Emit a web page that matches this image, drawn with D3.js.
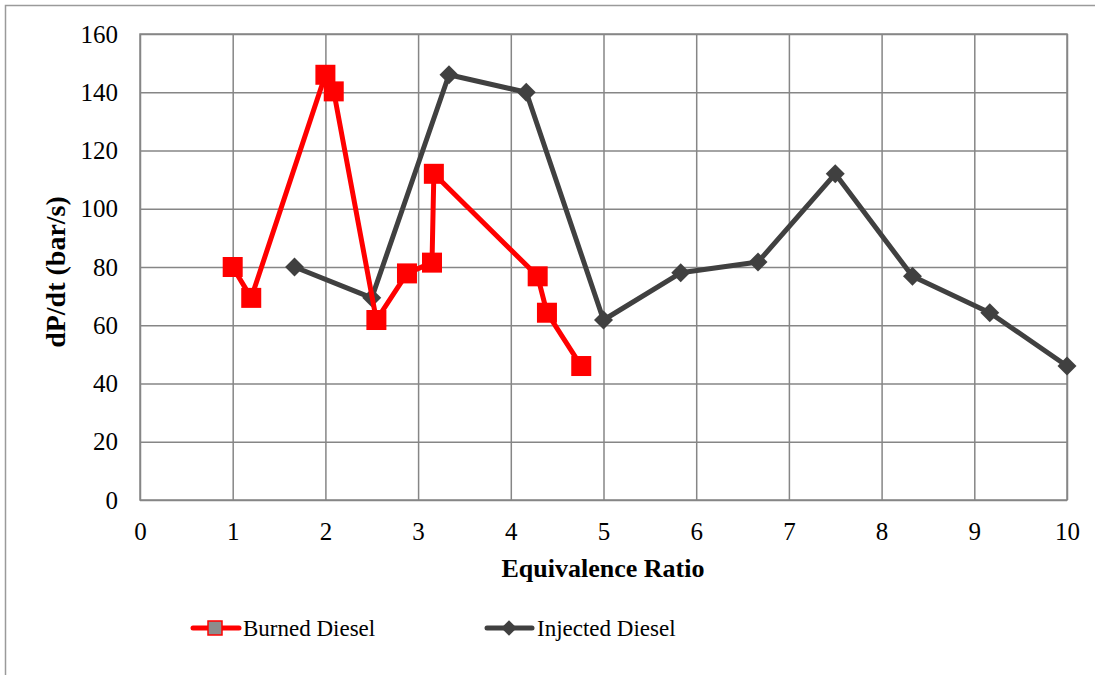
<!DOCTYPE html>
<html>
<head>
<meta charset="utf-8">
<script src="https://cdn.jsdelivr.net/npm/d3@7"></script>
<style>
  html, body { margin: 0; padding: 0; background: #fff; }
  svg text { font-family: "Liberation Serif", "Times New Roman", Tinos, "DejaVu Serif", serif; }
</style>
</head>
<body>
<svg id="chart" width="1095" height="675"></svg>
<script>
// Burned Diesel (red squares)
const burnedX = [1.0, 1.2, 2.0, 2.09, 2.55, 2.88, 3.15, 3.17, 4.29, 4.39, 4.76];
const burnedY = [80, 69.4, 146, 140.3, 61.8, 77.8, 81.5, 112, 76.8, 64.3, 46];
// Injected Diesel (dark diamonds)
const injectedX = [1.667, 2.5, 3.333, 4.167, 5, 5.833, 6.667, 7.5, 8.333, 9.167, 10];
const injectedY = [80, 69.4, 146, 140, 61.8, 78, 81.7, 112, 76.8, 64.3, 46];

const xTicks = [0, 1, 2, 3, 4, 5, 6, 7, 8, 9, 10];
const yTicks = [0, 20, 40, 60, 80, 100, 120, 140, 160];

const FONT = "'Liberation Serif', 'Times New Roman', serif";

const svg = d3.select("#chart");
const margin = { top: 34, right: 28, bottom: 175, left: 140 };
const W = 1095, H = 675;
const width = W - margin.left - margin.right;
const height = H - margin.top - margin.bottom;

// outer chart frame
svg.append("rect")
    .attr("x", 5.5).attr("y", 5.5)
    .attr("width", W + 20).attr("height", H + 20)
    .attr("fill", "none").attr("stroke", "#9a9a9a").attr("stroke-width", 1.5);

const g = svg.append("g").attr("transform", `translate(${margin.left},${margin.top})`);

const x = d3.scaleLinear().domain([0, 10]).range([0, width]);
const y = d3.scaleLinear().domain([0, 160]).range([height, 0]);

// === Grid ===
g.append("g")
    .call(d3.axisLeft(y).tickValues(yTicks).tickSize(-width).tickFormat(""))
    .call(a => a.select(".domain").remove())
    .call(a => a.selectAll("line").attr("stroke", "#868686").attr("stroke-width", 1.5));
g.append("g")
    .attr("transform", `translate(0,${height})`)
    .call(d3.axisBottom(x).tickValues(xTicks).tickSize(-height).tickFormat(""))
    .call(a => a.select(".domain").remove())
    .call(a => a.selectAll("line").attr("stroke", "#868686").attr("stroke-width", 1.5));

g.append("rect")
    .attr("width", width).attr("height", height)
    .attr("fill", "none").attr("stroke", "#868686").attr("stroke-width", 1.5);

// === Tick labels ===
const yAxis = g.append("g")
    .call(d3.axisLeft(y).tickValues(yTicks).tickSize(0).tickPadding(22))
    .call(a => a.select(".domain").remove());
yAxis.attr("font-family", FONT).attr("font-size", 25);
yAxis.selectAll("text").attr("fill", "#000");

const xAxis = g.append("g")
    .attr("transform", `translate(0,${height})`)
    .call(d3.axisBottom(x).tickValues(xTicks).tickSize(0).tickPadding(22))
    .call(a => a.select(".domain").remove());
xAxis.attr("font-family", FONT).attr("font-size", 25);
xAxis.selectAll("text").attr("fill", "#000").attr("dy", null).attr("y", 40);

// === Axis titles ===
svg.append("text")
    .attr("x", 603).attr("y", 577)
    .attr("text-anchor", "middle")
    .attr("font-family", FONT)
    .attr("font-size", 26).attr("font-weight", "bold")
    .text("Equivalence Ratio");

svg.append("text")
    .attr("transform", "translate(65,272) rotate(-90)")
    .attr("text-anchor", "middle")
    .attr("font-family", FONT)
    .attr("font-size", 28).attr("font-weight", "bold")
    .text("dP/dt (bar/s)");

// === Series ===
const line = d3.line().x(d => x(d[0])).y(d => y(d[1]));
const burned = burnedX.map((v, i) => [v, burnedY[i]]);
const injected = injectedX.map((v, i) => [v, injectedY[i]]);

g.append("path").datum(injected)
    .attr("d", line).attr("fill", "none")
    .attr("stroke", "#404040").attr("stroke-width", 5).attr("stroke-linejoin", "round");
g.selectAll(".inj").data(injected).enter().append("path")
    .attr("class", "inj")
    .attr("d", d3.symbol().type(d3.symbolSquare).size(180))
    .attr("transform", d => `translate(${x(d[0])},${y(d[1])}) rotate(45)`)
    .attr("fill", "#404040");

g.append("path").datum(burned)
    .attr("d", line).attr("fill", "none")
    .attr("stroke", "#ff0000").attr("stroke-width", 5).attr("stroke-linejoin", "round");
g.selectAll(".brn").data(burned).enter().append("rect")
    .attr("class", "brn")
    .attr("x", d => x(d[0]) - 10).attr("y", d => y(d[1]) - 10)
    .attr("width", 20).attr("height", 20)
    .attr("fill", "#ff0000");

// === Legend ===
const leg = svg.append("g").attr("font-family", FONT).attr("font-size", 23);
leg.append("line").attr("x1", 193).attr("x2", 239).attr("y1", 628).attr("y2", 628)
    .attr("stroke", "#ff0000").attr("stroke-width", 5).attr("stroke-linecap", "round");
leg.append("rect").attr("x", 208).attr("y", 621).attr("width", 14).attr("height", 14)
    .attr("fill", "#8c8c8c").attr("stroke", "#ff0000").attr("stroke-width", 1.5);
leg.append("text").attr("x", 243).attr("y", 636).text("Burned Diesel");

leg.append("line").attr("x1", 487).attr("x2", 532).attr("y1", 628).attr("y2", 628)
    .attr("stroke", "#404040").attr("stroke-width", 5).attr("stroke-linecap", "round");
leg.append("path")
    .attr("transform", "translate(509,628) rotate(45)")
    .attr("d", d3.symbol().type(d3.symbolSquare).size(120))
    .attr("fill", "#404040");
leg.append("text").attr("x", 537).attr("y", 636).text("Injected Diesel");
</script>
</body>
</html>
